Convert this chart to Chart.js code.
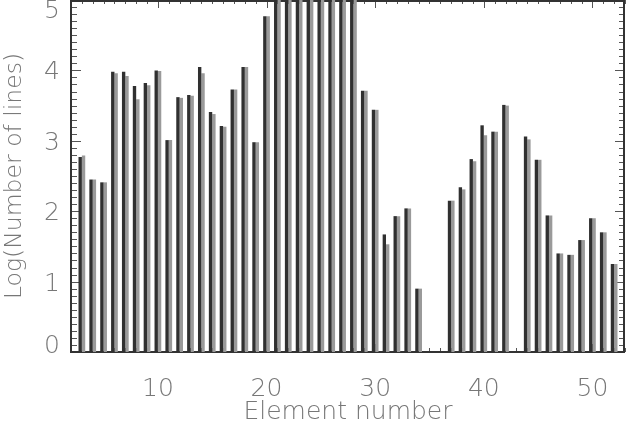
<!DOCTYPE html>
<html><head><meta charset="utf-8">
<script src="https://cdn.jsdelivr.net/npm/chart.js@4.4.0/dist/chart.umd.min.js"></script>
<style>html,body{margin:0;padding:0;background:#fff;}#wrap{width:626px;height:425px;}</style>
</head><body><div id="wrap"><canvas id="c" width="626" height="425"></canvas></div>
<script>
// Element numbers (x categories)
const elements = [3,4,5,6,7,8,9,10,11,12,13,14,15,16,17,18,19,20,21,22,23,24,25,26,27,28,29,30,31,32,33,34,35,36,37,38,39,40,41,42,43,44,45,46,47,48,49,50,51,52];
// Log(Number of lines), dark series
const linesDark = [2.77,2.45,2.41,3.98,3.98,3.78,3.82,4.00,3.01,3.62,3.65,4.05,3.41,3.21,3.73,4.05,2.98,4.77,5.30,5.50,5.60,5.55,5.50,5.45,5.40,5.30,3.71,3.44,1.67,1.93,2.04,0.90,null,null,2.15,2.34,2.74,3.22,3.13,3.51,null,3.06,2.73,1.94,1.40,1.38,1.59,1.90,1.70,1.25];
// Log(Number of lines), grey series
const linesGrey = [2.79,2.45,2.41,3.96,3.92,3.59,3.79,3.99,3.01,3.61,3.64,3.96,3.38,3.20,3.73,4.05,2.98,4.77,5.30,5.50,5.60,5.55,5.50,5.45,5.40,5.30,3.71,3.44,1.53,1.93,2.04,0.90,null,null,2.15,2.31,2.71,3.08,3.13,3.50,null,3.02,2.73,1.94,1.40,1.38,1.59,1.90,1.70,1.25];
const xTickLabels = [10,20,30,40,50];
const yTickLabels = [0,1,2,3,4,5];

const FONT = "'DejaVu Sans', sans-serif";
const TXT = '#777777';

const framePlugin = {
  id: 'frame',
  beforeDatasetsDraw(chart) {
    const {ctx, chartArea: a, scales: {x, y}} = chart;
    ctx.save();
    ctx.strokeStyle = '#555';
    ctx.lineWidth = 1;
    ctx.beginPath();
    for (let v = Math.ceil(x.min); v <= x.max; v++) {
      const px = Math.round(x.getPixelForValue(v)) + 0.5;
      const len = (v % 10 === 0) ? 8 : 4;
      ctx.moveTo(px, a.top); ctx.lineTo(px, a.top + len);
      ctx.moveTo(px, a.bottom); ctx.lineTo(px, a.bottom - len);
    }
    for (let k = 0; k <= y.max * 10; k++) {
      const py = Math.round(y.getPixelForValue(k / 10)) + 0.5;
      const len = (k % 10 === 0) ? 10 : 6;
      ctx.moveTo(a.left, py); ctx.lineTo(a.left + len, py);
      ctx.moveTo(a.right, py); ctx.lineTo(a.right - len, py);
    }
    ctx.stroke();
    ctx.strokeStyle = '#333';
    ctx.lineWidth = 2;
    ctx.strokeRect(a.left, a.top + 1, a.right - a.left - 1, a.bottom - a.top - 1);
    ctx.restore();
  },
  afterDraw(chart) {
    const {ctx, chartArea: a, scales: {y}} = chart;
    ctx.save();
    ctx.font = '200 25px ' + FONT;
    ctx.fillStyle = TXT;
    ctx.textAlign = 'right';
    ctx.textBaseline = 'alphabetic';
    yTickLabels.forEach(v => {
      let c = y.getPixelForValue(v);
      c = Math.min(Math.max(c, a.top + 9), a.bottom - 8);
      ctx.fillText(String(v), a.left - 11, c + 9);
    });
    ctx.restore();
  }
};

new Chart(document.getElementById('c'), {
  type: 'bar',
  data: {
    datasets: [
      { label: 'dark', data: elements.map((e, i) => ({x: e, y: linesDark[i]})), backgroundColor: '#303030', clip: 0, categoryPercentage: 0.62, barPercentage: 1 },
      { label: 'grey', data: elements.map((e, i) => ({x: e, y: linesGrey[i]})), backgroundColor: '#9a9a9a', clip: 0, categoryPercentage: 0.62, barPercentage: 1 }
    ]
  },
  options: {
    responsive: false,
    animation: false,
    events: [],
    layout: { padding: { right: 1, left: 0, top: 0, bottom: 0 } },
    plugins: { legend: { display: false }, tooltip: { enabled: false } },
    scales: {
      x: {
        type: 'linear', min: 2, max: 53, offset: false,
        grid: { display: false, offset: false }, border: { display: false },
        afterBuildTicks: s => { s.ticks = xTickLabels.map(v => ({value: v})); },
        ticks: { padding: 17, color: TXT, autoSkip: false, maxRotation: 0, font: { family: FONT, size: 25, weight: '200', lineHeight: 1 } },
        title: { display: true, text: 'Element number', color: TXT, padding: 0, font: { family: FONT, size: 25, weight: '200', lineHeight: 1 } },
        afterFit: s => { s.height = 73; }
      },
      y: {
        min: 0, max: 5,
        grid: { display: false }, border: { display: false },
        afterBuildTicks: s => { s.ticks = yTickLabels.map(v => ({value: v})); },
        ticks: { display: false },
        title: { display: true, text: 'Log(Number of lines)', color: TXT, padding: { top: 3, bottom: 0 }, font: { family: FONT, size: 23.5, weight: '200', lineHeight: 1 } },
        afterFit: s => { s.width = 71; }
      }
    }
  },
  plugins: [framePlugin]
});
</script>
</body></html>
